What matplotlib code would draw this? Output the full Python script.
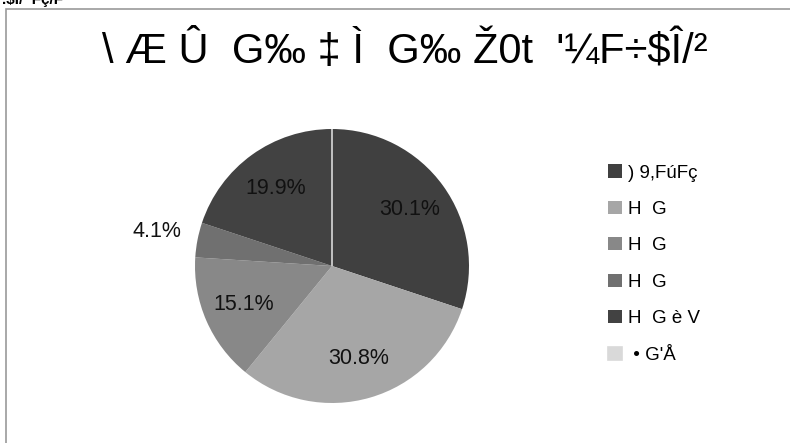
import matplotlib
matplotlib.use("Agg")
import matplotlib.pyplot as plt
from matplotlib.patches import Rectangle
import numpy as np

plt.rcParams['font.family'] = ['Liberation Sans', 'DejaVu Sans']

title = "\\ Æ Û  G‰ ‡ Ì  G‰ Ž0t  '¼F÷$Î/²"
corner_text = ".$Í/  Fç/F"
categories = [") 9,FúFç", "H  G", "H  G", "H  G", "H  G è V", " • G'Å"]
values = [30.1, 30.8, 15.1, 4.1, 19.9, 0.0]
colors = ["#404040", "#a6a6a6", "#888888", "#707070", "#424242", "#d9d9d9"]

W, H = 790, 443
fig = plt.figure(figsize=(W / 100, H / 100), dpi=100)

# outer frame (extends beyond right/bottom edges)
fig.add_artist(Rectangle((6 / W, -0.1), 1.2, 1 - 9 / H + 0.1,
                         transform=fig.transFigure, fill=False,
                         edgecolor="#999999", linewidth=1.2))

fig.text(2 / W, 1 - 4 / H, corner_text, fontsize=11, fontweight="bold",
         ha="left", va="baseline")

fig.text(405 / W, 1 - 52 / H, title, fontsize=30, ha="center", va="center")

cx, cy, r = 332, 266, 137
ax = fig.add_axes([(cx - r) / W, (H - cy - r) / H, 2 * r / W, 2 * r / H])
wedges, texts, autotexts = ax.pie(
    values, colors=colors, startangle=90, counterclock=False,
    autopct="%.1f%%", pctdistance=0.7, radius=1,
    wedgeprops=dict(linewidth=0), textprops=dict(fontsize=15.5, color="#111111"))
ax.set_xlim(-1, 1)
ax.set_ylim(-1, 1)
ax.set_aspect("auto")
ax.axis("off")

# zero slice drawn as a thin light line
wedges[-1].set_edgecolor(colors[-1])
wedges[-1].set_linewidth(1.2)
autotexts[-1].set_visible(False)

# small slice label outside
w = wedges[3]
ang = np.deg2rad((w.theta1 + w.theta2) / 2)
autotexts[3].set_position((1.3 * np.cos(ang), 1.32 * np.sin(ang)))

leg = fig.legend(wedges, categories, loc="upper left",
                 bbox_to_anchor=(599 / W, 1 - 155 / H), frameon=False,
                 fontsize=13.5, handlelength=0.7, handleheight=0.7,
                 handletextpad=0.35, labelspacing=1.03, borderpad=0)

fig.savefig("out.png", dpi=100)
